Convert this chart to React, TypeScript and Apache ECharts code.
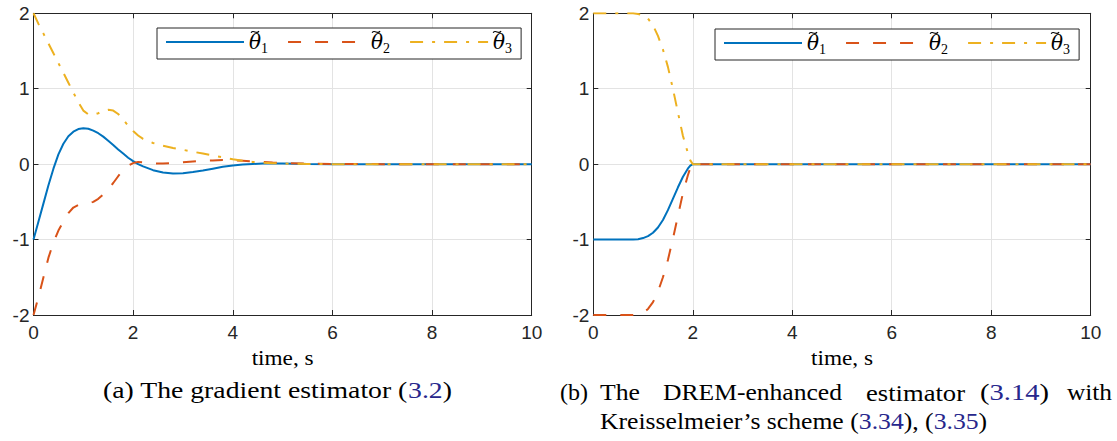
import React, { useEffect, useRef } from "react";
import * as echarts from "echarts";

// ---------- data ----------
const seriesNames = ["theta1", "theta2", "theta3"];
const xTickStep = 2;
const yTickStep = 1;

// (a) gradient estimator
const tLeft = [0, 0.1, 0.2, 0.3, 0.4, 0.5, 0.6, 0.7, 0.8, 0.9, 1, 1.1, 1.2, 1.3, 1.4, 1.5, 1.6, 1.7, 1.8, 1.9, 2, 2.1, 2.2, 2.4, 2.6, 2.8, 3, 3.2, 3.4, 3.6, 3.8, 4, 4.2, 4.4, 4.6, 4.8, 5, 5.5, 6, 7, 8, 9, 10];
const gradTheta1 = [-1, -0.76, -0.52, -0.28, -0.06, 0.13, 0.27, 0.37, 0.43, 0.465, 0.475, 0.47, 0.445, 0.41, 0.365, 0.31, 0.255, 0.195, 0.14, 0.085, 0.04, 0.0, -0.03, -0.08, -0.11, -0.123, -0.12, -0.105, -0.085, -0.06, -0.035, -0.017, -0.005, 0.003, 0.007, 0.008, 0.007, 0.003, 0, 0, 0, 0, 0];
const gradTheta2 = [-2, -1.76, -1.5, -1.24, -1.04, -0.88, -0.76, -0.65, -0.575, -0.54, -0.525, -0.52, -0.5, -0.46, -0.4, -0.33, -0.25, -0.16, -0.08, -0.02, 0.015, 0.03, 0.025, 0.01, 0.01, 0.015, 0.025, 0.035, 0.045, 0.05, 0.055, 0.05, 0.045, 0.035, 0.03, 0.022, 0.016, 0.006, 0.002, 0, 0, 0, 0];
const gradTheta3 = [2, 1.86, 1.73, 1.6, 1.47, 1.34, 1.21, 1.08, 0.95, 0.82, 0.71, 0.66, 0.655, 0.675, 0.705, 0.72, 0.71, 0.665, 0.59, 0.51, 0.44, 0.38, 0.335, 0.28, 0.245, 0.215, 0.19, 0.165, 0.14, 0.115, 0.09, 0.065, 0.045, 0.03, 0.02, 0.013, 0.008, 0.003, 0, 0, 0, 0, 0];

// (b) DREM-enhanced estimator
const tRight = [0, 0.5, 0.8, 0.9, 1, 1.1, 1.2, 1.3, 1.4, 1.5, 1.6, 1.7, 1.8, 1.9, 1.95, 2, 4, 6, 8, 10];
const dremTheta1 = [-1, -1, -1, -0.995, -0.98, -0.955, -0.91, -0.84, -0.74, -0.61, -0.46, -0.31, -0.17, -0.06, -0.02, 0, 0, 0, 0, 0];
const dremTheta2 = [-2, -2, -2, -1.99, -1.97, -1.92, -1.83, -1.69, -1.5, -1.27, -0.99, -0.69, -0.39, -0.15, -0.05, 0, 0, 0, 0, 0];
const dremTheta3 = [2, 2, 2, 1.99, 1.975, 1.93, 1.84, 1.7, 1.52, 1.29, 1, 0.69, 0.38, 0.15, 0.05, 0, 0, 0, 0, 0];

// ---------- styling ----------
const colors = ["#0072BD", "#D95319", "#EDB120"];
const dashes: any[] = ["solid", [13, 14], [13, 9, 3, 9]];
const AX = "#262626";
const SERIF = "Liberation Serif";
const SANS = "Liberation Sans";
const LINK = "#27278c";

const LEG_ITEM_W = 78;
const LEG_GAP = 19;
const LEG_PAD = [4, 9, 4, 8];
const LEG_LINE_H = 26;
const TH_FONT = "italic 20px 'DejaVu Serif'";
const SUB_FONT = "14px 'Liberation Serif'";

function pairs(t: number[], v: number[]) {
  return t.map((x, i) => [x, v[i]]);
}

function measure(text: string, font: string) {
  const c = document.createElement("canvas").getContext("2d")!;
  c.font = font;
  return c.measureText(text).width;
}

function fitText(text: string, fontSize: number, x: number, y: number, width: number, rich?: any, shown?: string, align = "left") {
  const w = measure(text, `${fontSize}px "Liberation Serif"`);
  return {
    type: "text",
    x,
    y,
    scaleX: width / w,
    silent: true,
    style: {
      text: shown ?? text,
      fontFamily: SERIF,
      fontSize,
      fill: "#000",
      textAlign: align,
      textVerticalAlign: "middle",
      rich,
    },
  };
}

function mkX(gridIndex: number, position: string, main: boolean) {
  return {
    type: "value",
    gridIndex,
    position,
    min: 0,
    max: 10,
    interval: xTickStep,
    axisLine: { show: true, onZero: false, lineStyle: { color: AX, width: 1 } },
    axisTick: { show: true, inside: true, length: 5, lineStyle: { color: AX, width: 1 } },
    axisLabel: { show: main, margin: 8, fontFamily: SANS, fontSize: 19, color: AX },
    splitLine: { show: main, lineStyle: { color: "#e3e3e3", width: 1 } },
  };
}

function mkY(gridIndex: number, position: string, main: boolean) {
  return {
    type: "value",
    gridIndex,
    position,
    min: -2,
    max: 2,
    interval: yTickStep,
    axisLine: { show: true, onZero: false, lineStyle: { color: AX, width: 1 } },
    axisTick: { show: true, inside: true, length: 5, lineStyle: { color: AX, width: 1 } },
    axisLabel: { show: main, margin: 4, fontFamily: SANS, fontSize: 19, color: AX },
    splitLine: { show: main, lineStyle: { color: "#e3e3e3", width: 1 } },
  };
}

const legendRich = {
  th: { fontFamily: "DejaVu Serif", fontStyle: "italic", fontSize: 20, color: "#000", lineHeight: LEG_LINE_H },
  sub: { fontFamily: SERIF, fontSize: 14, color: "#000", lineHeight: 20, verticalAlign: "bottom" },
};

function mkLegend(left: number, top: number) {
  return {
    left,
    top,
    orient: "horizontal",
    padding: LEG_PAD,
    itemGap: LEG_GAP,
    itemWidth: LEG_ITEM_W,
    itemHeight: 14,
    borderColor: AX,
    borderWidth: 1,
    borderRadius: 0,
    backgroundColor: "#fff",
    selectedMode: false,
    itemStyle: { opacity: 0 },
    data: seriesNames,
    formatter: (name: string) => `{th|\u03B8}{sub|${seriesNames.indexOf(name) + 1}}`,
    textStyle: { rich: legendRich },
  };
}

// tilde accents over the legend's theta glyphs (drawn as curves)
function legendTildes(left: number, top: number) {
  const thW = measure("\u03B8", TH_FONT);
  const out: any[] = [];
  let x = left + LEG_PAD[3];
  const cy = top + LEG_PAD[0] + LEG_LINE_H / 2;
  seriesNames.forEach((_, i) => {
    const subW = measure(String(i + 1), SUB_FONT);
    const tx = x + LEG_ITEM_W + 5;
    const x0 = tx + thW * 0.25;
    const y0 = cy - 13.5;
    out.push({
      type: "bezierCurve",
      silent: true,
      z: 100,
      shape: { x1: x0, y1: y0 + 1.2, cpx1: x0 + 2.6, cpy1: y0 - 2.6, cpx2: x0 + 5.4, cpy2: y0 + 3.6, x2: x0 + 8, y2: y0 - 0.4 },
      style: { stroke: "#000", lineWidth: 1.1, fill: null },
    });
    x = tx + thW + subW + LEG_GAP;
  });
  return out;
}

function mkSeries(name: string, idx: number, axis: number, t: number[], v: number[]) {
  return {
    type: "line",
    name,
    xAxisIndex: axis,
    yAxisIndex: axis,
    data: pairs(t, v),
    symbol: "none",
    showSymbol: false,
    lineStyle: { color: colors[idx], width: 2, type: dashes[idx] },
    itemStyle: { color: colors[idx] },
    z: 3 + idx,
  };
}

export default function App() {
  const ref = useRef<HTMLDivElement>(null);
  useEffect(() => {
    const chart = echarts.init(ref.current!, null, { renderer: "svg" });
    const numRich = { n: { fill: LINK, fontFamily: SERIF, fontSize: 24 } };
    const option: any = {
      animation: false,
      backgroundColor: "#fff",
      grid: [
        { left: 33.5, top: 13.3, width: 498.2, height: 301.7 },
        { left: 593.3, top: 13.3, width: 497.4, height: 301.7 },
      ],
      xAxis: [mkX(0, "bottom", true), mkX(0, "top", false), mkX(1, "bottom", true), mkX(1, "top", false)],
      yAxis: [mkY(0, "left", true), mkY(0, "right", false), mkY(1, "left", true), mkY(1, "right", false)],
      legend: [mkLegend(157, 28), mkLegend(715, 29)],
      series: [
        mkSeries(seriesNames[0], 0, 0, tLeft, gradTheta1),
        mkSeries(seriesNames[1], 1, 0, tLeft, gradTheta2),
        mkSeries(seriesNames[2], 2, 0, tLeft, gradTheta3),
        mkSeries(seriesNames[0], 0, 2, tRight, dremTheta1),
        mkSeries(seriesNames[1], 1, 2, tRight, dremTheta2),
        mkSeries(seriesNames[2], 2, 2, tRight, dremTheta3),
      ],
      graphic: [
        ...legendTildes(157, 28),
        ...legendTildes(715, 29),
        fitText("time, s", 21, 282.6, 358, 62, undefined, undefined, "center"),
        fitText("time, s", 21, 842, 358, 62, undefined, undefined, "center"),
        fitText("(a) The gradient estimator (3.2)", 24, 103, 390, 349, numRich, "(a) The gradient estimator ({n|3.2})"),
        fitText("(b)", 24, 560, 392, 28),
        fitText("The", 24, 600, 392, 40),
        fitText("DREM-enhanced", 24, 663, 392, 179),
        fitText("estimator", 24, 866, 392, 99),
        fitText("(3.14)", 24, 980, 392, 69, numRich, "({n|3.14})"),
        fitText("with", 24, 1067, 392, 45),
        fitText("Kreisselmeier\u2019s scheme (3.34), (3.35)", 24, 600, 421, 387, numRich, "Kreisselmeier\u2019s scheme ({n|3.34}), ({n|3.35})"),
      ],
    };
    chart.setOption(option);
    return () => chart.dispose();
  }, []);
  return <div ref={ref} style={{ position: "fixed", left: 0, top: 0, width: 1117, height: 441 }} />;
}
